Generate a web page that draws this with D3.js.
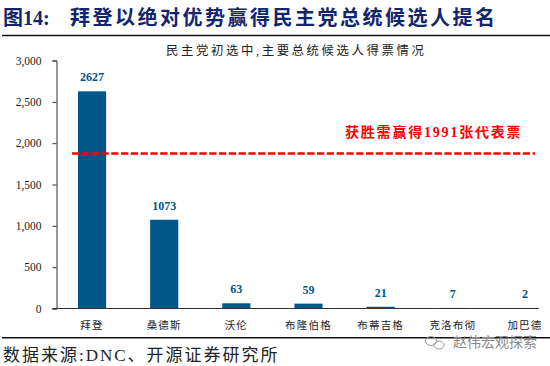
<!DOCTYPE html>
<html>
<head>
<meta charset="utf-8">
<script src="https://cdn.jsdelivr.net/npm/d3@7"></script>
<style>
  html, body { margin: 0; padding: 0; background: #fff; }
  svg { display: block; }
  text { font-family: "Liberation Serif", "Noto Sans CJK SC", serif; }
</style>
</head>
<body>
<div id="chart"></div>
<script>
const names = ["拜登", "桑德斯", "沃伦", "布隆伯格", "布蒂吉格", "克洛布彻", "加巴德"];
const votes = [2627, 1073, 63, 59, 21, 7, 2];
const yTicks = [0, 500, 1000, 1500, 2000, 2500, 3000];
// the dashed line sits here in the picture, a bit under the 1991 its label says
const thresholdLine = 1875;

const titlePrefix = "图14:";
const titleText = "拜登以绝对优势赢得民主党总统候选人提名";
const subtitleText = "民主党初选中,主要总统候选人得票情况";
const thresholdLabel = "获胜需赢得1991张代表票";
const sourceText = "数据来源:DNC、开源证券研究所";
const watermark = "赵伟宏观探索";

const width = 550, height = 366;
const margin = {left: 56.5, axisEnd: 539, top: 60.5, bottom: 308.5};

const svg = d3.select("#chart").append("svg")
    .attr("width", width)
    .attr("height", height)
    .attr("viewBox", [0, 0, width, height]);

const x = d3.scaleBand()
    .domain(names)
    .range([56, 561])
    .paddingInner(0.61)
    .paddingOuter(0.305);

const y = d3.scaleLinear()
    .domain([0, 3000])
    .range([margin.bottom, margin.top]);

// header
svg.append("text")
    .attr("x", 3).attr("y", 25)
    .attr("fill", "#12256e")
    .attr("font-size", 20)
    .attr("font-weight", "bold")
    .text(titlePrefix);

svg.append("text")
    .attr("x", 70).attr("y", 25)
    .attr("fill", "#12256e")
    .attr("font-size", 20)
    .attr("font-weight", "bold")
    .attr("letter-spacing", 2.5)
    .text(titleText);

svg.append("line")
    .attr("x1", 2).attr("x2", 550)
    .attr("y1", 35.5).attr("y2", 35.5)
    .attr("stroke", "#111")
    .attr("stroke-width", 1.6);

svg.append("text")
    .attr("x", 166).attr("y", 55)
    .attr("fill", "#222")
    .attr("font-size", 12.4)
    .attr("letter-spacing", 2.6)
    .text(subtitleText);

// bars
svg.append("g")
    .selectAll("rect")
    .data(names)
    .join("rect")
    .attr("x", d => x(d))
    .attr("y", (d, i) => y(votes[i]))
    .attr("width", x.bandwidth())
    .attr("height", (d, i) => y(0) - y(votes[i]))
    .attr("fill", "#01568a");

svg.append("g")
    .selectAll("text")
    .data(names)
    .join("text")
    .attr("x", d => x(d) + x.bandwidth() / 2)
    .attr("y", (d, i) => y(votes[i]) - 10)
    .attr("text-anchor", "middle")
    .attr("fill", "#01568a")
    .attr("font-size", 12)
    .attr("font-weight", "bold")
    .text((d, i) => votes[i]);

// axes
const yAxis = svg.append("g")
    .attr("transform", `translate(${margin.left},0)`)
    .call(d3.axisLeft(y).tickValues(yTicks).tickSize(4).tickPadding(11).tickFormat(d3.format(",")));
yAxis.selectAll("text").attr("font-size", 11.5).attr("fill", "#222");
yAxis.selectAll("line").attr("stroke", "#333");
yAxis.select(".domain").attr("stroke", "#333");

const xAxis = svg.append("g")
    .attr("transform", `translate(0,${margin.bottom})`)
    .call(d3.axisBottom(x).tickSize(0).tickPadding(13));
xAxis.select(".domain").remove();
xAxis.selectAll("text")
    .attr("font-size", 10.5)
    .attr("fill", "#222")
    .attr("letter-spacing", 1.2);

svg.append("line")
    .attr("x1", margin.left - 4).attr("x2", margin.axisEnd)
    .attr("y1", margin.bottom).attr("y2", margin.bottom)
    .attr("stroke", "#333");

// threshold line
svg.append("line")
    .attr("x1", 72).attr("x2", 535)
    .attr("y1", y(thresholdLine)).attr("y2", y(thresholdLine))
    .attr("stroke", "#fe0000")
    .attr("stroke-width", 2.5)
    .attr("stroke-dasharray", "7.3 2.5");

svg.append("text")
    .attr("x", 345).attr("y", 137)
    .attr("fill", "#fe0000")
    .attr("font-size", 14)
    .attr("font-weight", "bold")
    .attr("letter-spacing", 1.8)
    .text(thresholdLabel);

// footer
svg.append("line")
    .attr("x1", 2).attr("x2", 550)
    .attr("y1", 337.7).attr("y2", 337.7)
    .attr("stroke", "#111")
    .attr("stroke-width", 1.4);

svg.append("text")
    .attr("x", 3).attr("y", 361)
    .attr("fill", "#222")
    .attr("font-size", 17)
    .attr("letter-spacing", 2)
    .text(sourceText);

// watermark
const mark = svg.append("g").attr("fill", "none").attr("stroke", "#9a9a9a");
mark.append("ellipse").attr("cx", 431).attr("cy", 341).attr("rx", 5.5).attr("ry", 4.5);
mark.append("ellipse").attr("cx", 439).attr("cy", 345).attr("rx", 5).attr("ry", 4);

svg.append("text")
    .attr("x", 453).attr("y", 347)
    .attr("fill", "#8a8a8a")
    .attr("font-size", 14)
    .text(watermark);
</script>
</body>
</html>
